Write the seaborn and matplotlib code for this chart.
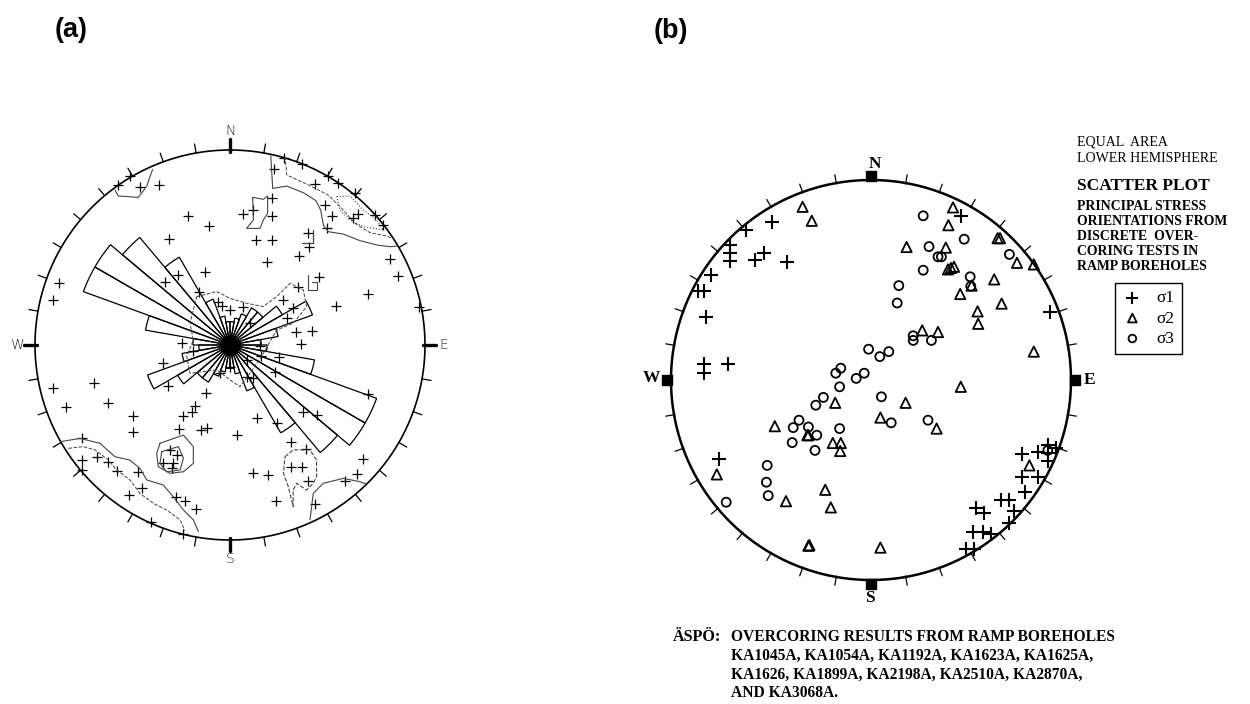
import numpy as np
import matplotlib
matplotlib.use("Agg")
import matplotlib.pyplot as plt
import seaborn as sns

# ---------------- data: panel (a) ----------------
# rose diagram, 10-degree bins 0-180 (mirrored to 180-360), length as fraction of net radius
rose_bin_start = list(range(0, 180, 10))
rose_length = [0.12, 0.14, 0.17, 0.22, 0.22, 0.31, 0.45, 0.25, 0.16,
               0.19, 0.44, 0.80, 0.80, 0.72, 0.52, 0.25, 0.15, 0.12]

# poles (+) in projected net coordinates (east, north), unit radius
a_x = [-0.573, -0.462, -0.362, -0.513, -0.214, -0.106, -0.311, 0.068, 0.120, 0.217,
       0.217, 0.133, 0.217, 0.191, 0.356, 0.402, 0.407, 0.226, 0.368, 0.436,
       0.487, 0.521, 0.499, 0.629, 0.744, 0.786, 0.821, 0.863, 0.709, 0.544,
       0.458, 0.350, 0.338, 0.419, 0.362, 0.253, 0.231, 0.709, 0.641, 0.556,
       0.501, -0.875, -0.906, -0.909, -0.841, -0.697, -0.624, -0.499, -0.496, -0.345,
       -0.248, -0.188, -0.333, -0.265, -0.128, -0.157, -0.123, -0.179, -0.197, -0.243,
       -0.150, -0.116, -0.262, 0.034, 0.140, 0.239, 0.376, 0.444, 0.311, 0.390,
       0.311, 0.368, 0.402, 0.436, 0.116, 0.197, 0.236, 0.680, 0.650, 0.590,
       -0.761, -0.761, -0.684, -0.624, -0.761, -0.578, -0.470, -0.516, -0.453, -0.308,
       -0.274, -0.342, -0.291, -0.299, -0.277, -0.231, -0.174, -0.407, -0.239, -0.051,
       0.000, 0.068, 0.154, 0.089, 0.000, -0.043, 0.658, 0.277, 0.971, 0.274,
       0.325, 0.291, -0.316, 0.103, 0.085, 0.120, -0.060, 0.157]
a_y = [0.821, 0.809, 0.821, 0.868, 0.662, 0.612, 0.542, 0.670, 0.692, 0.752,
       0.662, 0.538, 0.538, 0.424, 0.456, 0.576, 0.501, 0.901, 0.928, 0.826,
       0.718, 0.662, 0.598, 0.650, 0.667, 0.615, 0.439, 0.354, 0.262, 0.202,
       0.350, 0.296, 0.068, 0.074, 0.005, -0.060, -0.137, -0.251, 0.778, 0.832,
       0.867, 0.320, 0.231, -0.222, -0.316, -0.197, -0.299, -0.364, -0.444, -0.091,
       0.009, -0.029, 0.325, 0.359, 0.373, 0.274, -0.244, -0.313, -0.345, -0.364,
       -0.436, -0.427, -0.432, -0.462, -0.376, -0.398, -0.342, -0.359, -0.496, -0.535,
       -0.627, -0.627, -0.696, -0.815, -0.658, -0.667, -0.798, -0.586, -0.663, -0.696,
       -0.479, -0.590, -0.576, -0.598, -0.641, -0.644, -0.650, -0.769, -0.735, -0.538,
       -0.564, -0.603, -0.603, -0.632, -0.781, -0.798, -0.843, -0.909, -0.969, -0.145,
       -0.111, 0.193, -0.005, -0.162, 0.179, 0.200, 0.672, 0.957, 0.197, 0.231,
       0.188, 0.137, -0.210, 0.111, -0.077, -0.171, 0.222, -0.056]

# density contour traces (east, north)
contour_ne_outer = [(0.209, 0.971), (0.219, 0.803), (0.291, 0.815), (0.376, 0.781), (0.441, 0.740),
                    (0.465, 0.692), (0.479, 0.615), (0.504, 0.581), (0.581, 0.569), (0.667, 0.535),
                    (0.752, 0.513), (0.821, 0.504), (0.863, 0.508)]
contour_ne_mid = [(0.282, 0.966), (0.291, 0.872), (0.402, 0.821), (0.504, 0.769), (0.581, 0.692),
                  (0.641, 0.624), (0.718, 0.576), (0.803, 0.559), (0.840, 0.545)]
contour_ne_inner = [(0.547, 0.761), (0.615, 0.764), (0.684, 0.692), (0.752, 0.641), (0.786, 0.590),
                    (0.684, 0.607), (0.615, 0.641), (0.564, 0.692), (0.547, 0.761)]
contour_nw = [(-0.590, 0.795), (-0.573, 0.764), (-0.470, 0.757), (-0.427, 0.815), (-0.397, 0.900)]
contour_sw_outer = [(-0.872, -0.496), (-0.769, -0.479), (-0.667, -0.504), (-0.590, -0.573),
                    (-0.513, -0.590), (-0.462, -0.633), (-0.427, -0.692), (-0.342, -0.718),
                    (-0.291, -0.778), (-0.239, -0.846), (-0.188, -0.897), (-0.162, -0.957)]
contour_sw_inner = [(-0.829, -0.530), (-0.752, -0.521), (-0.692, -0.538), (-0.624, -0.590),
                    (-0.581, -0.641), (-0.513, -0.692), (-0.462, -0.761), (-0.393, -0.812),
                    (-0.325, -0.846), (-0.256, -0.897), (-0.231, -0.952)]
contour_island_outer = [(-0.359, -0.504), (-0.239, -0.462), (-0.188, -0.521), (-0.188, -0.607),
                        (-0.239, -0.650), (-0.308, -0.658), (-0.368, -0.624), (-0.376, -0.556),
                        (-0.359, -0.504)]
contour_island_inner = [(-0.350, -0.547), (-0.265, -0.521), (-0.239, -0.581), (-0.256, -0.641),
                        (-0.325, -0.650), (-0.359, -0.607), (-0.350, -0.547)]
contour_se = [(0.282, -0.573), (0.324, -0.538), (0.410, -0.538), (0.444, -0.590), (0.444, -0.675),
              (0.427, -0.709), (0.393, -0.744), (0.342, -0.709), (0.324, -0.744), (0.324, -0.829),
              (0.299, -0.726), (0.274, -0.658), (0.282, -0.573)]
contour_se_rim = [(0.410, -0.897), (0.427, -0.761), (0.479, -0.709), (0.581, -0.684),
                  (0.667, -0.701), (0.700, -0.714)]
contour_centre = [(-0.171, 0.248), (-0.068, 0.274), (0.000, 0.239), (0.085, 0.214), (0.171, 0.197),
                  (0.239, 0.248), (0.308, 0.316), (0.376, 0.282), (0.393, 0.197), (0.324, 0.111),
                  (0.239, 0.077), (0.171, -0.043), (0.103, -0.145), (0.051, -0.214), (0.000, -0.179),
                  (-0.068, -0.128), (-0.205, -0.145), (-0.222, -0.060), (-0.188, 0.026),
                  (-0.205, 0.111), (-0.171, 0.248)]
contour_box_n = [(0.116, 0.757), (0.171, 0.747), (0.193, 0.764), (0.193, 0.675), (0.171, 0.641),
                 (0.154, 0.598), (0.085, 0.598), (0.120, 0.641), (0.116, 0.757)]
contour_step_ne = [(0.368, 0.521), (0.427, 0.521), (0.427, 0.590)]
contour_box_e = [(0.402, 0.359), (0.402, 0.282), (0.444, 0.282), (0.444, 0.325), (0.419, 0.325)]

# ---------------- data: panel (b) ----------------
s1_x = [-0.497, -0.623, -0.707, -0.707, -0.707, -0.534, -0.581, -0.419, -0.799, -0.866,
        -0.836, -0.827, -0.836, -0.836, -0.715, -0.760, 0.449, 0.893, 0.884, 0.926,
        0.834, 0.755, 0.884, 0.884, 0.834, 0.755, 0.772, 0.650, 0.692, 0.717,
        0.524, 0.566, 0.692, 0.508, 0.558, 0.600, 0.474, 0.513]
s1_y = [0.791, 0.750, 0.673, 0.637, 0.595, 0.633, 0.600, 0.591, 0.523, 0.444,
        0.444, 0.315, 0.080, 0.034, 0.080, -0.397, 0.821, 0.338, -0.327, -0.338,
        -0.360, -0.372, -0.365, -0.407, -0.486, -0.486, -0.561, -0.600, -0.600, -0.653,
        -0.642, -0.667, -0.717, -0.762, -0.762, -0.771, -0.843, -0.843]
s2_x = [-0.342, -0.296, 0.410, 0.387, 0.178, 0.374, 0.633, 0.645, 0.730, 0.814,
        0.385, 0.400, 0.415, 0.503, 0.446, 0.616, 0.653, 0.533, 0.536, 0.256,
        0.335, 0.814, 0.449, 0.173, -0.179, 0.047, 0.328, -0.481, -0.313, -0.318,
        -0.191, -0.151, -0.154, -0.771, -0.229, -0.201, -0.425, -0.313, -0.308, 0.047,
        0.792]
s2_y = [0.866, 0.796, 0.863, 0.774, 0.665, 0.662, 0.709, 0.709, 0.586, 0.578,
        0.553, 0.560, 0.566, 0.472, 0.430, 0.503, 0.382, 0.343, 0.281, 0.248,
        0.240, 0.142, -0.034, -0.114, -0.114, -0.188, -0.243, -0.231, -0.276, -0.276,
        -0.315, -0.315, -0.355, -0.472, -0.549, -0.637, -0.606, -0.829, -0.826, -0.838,
        -0.427]
s3_x = [0.261, 0.466, 0.290, 0.335, 0.352, 0.261, 0.496, 0.499, 0.692, 0.139,
        0.131, 0.211, 0.211, 0.302, -0.012, 0.044, 0.089, -0.151, -0.176, -0.034,
        -0.074, -0.157, -0.238, -0.276, 0.052, 0.101, 0.285, -0.360, -0.389, -0.313,
        -0.271, -0.157, -0.394, -0.280, -0.519, -0.523, -0.514, -0.724, 0.884]
s3_y = [0.821, 0.704, 0.667, 0.616, 0.616, 0.549, 0.516, 0.469, 0.628, 0.472,
        0.385, 0.221, 0.198, 0.198, 0.154, 0.117, 0.142, 0.059, 0.034, 0.034,
        0.008, -0.034, -0.087, -0.126, -0.084, -0.214, -0.201, -0.201, -0.238, -0.235,
        -0.276, -0.243, -0.313, -0.352, -0.427, -0.511, -0.578, -0.611, -0.352]
legend_labels = ["\u03c31", "\u03c32", "\u03c33"]

cardinal_az = [0, 90, 180, 270]
cardinal_names = ["N", "E", "S", "W"]

info_lines = [("EQUAL  AREA", False, 10), ("LOWER HEMISPHERE", False, 10),
              ("SCATTER PLOT", True, 12.5), ("PRINCIPAL STRESS", True, 9.9),
              ("ORIENTATIONS FROM", True, 9.9), ("DISCRETE  OVER-", True, 9.9),
              ("CORING TESTS IN", True, 9.9), ("RAMP BOREHOLES", True, 9.9)]
caption_head = "\u00c4SP\u00d6:"
caption_lines = ["OVERCORING RESULTS FROM RAMP BOREHOLES",
                 "KA1045A, KA1054A, KA1192A, KA1623A, KA1625A,",
                 "KA1626, KA1899A, KA2198A, KA2510A, KA2870A,",
                 "AND KA3068A."]

# ---------------- figure ----------------
sns.set_theme(style="white")
plt.rcParams["font.family"] = ["DejaVu Sans"]
plt.rcParams["text.color"] = "black"
W, H = 1250, 704
fig = plt.figure(figsize=(12.5, 7.04), dpi=100)
fig.patch.set_facecolor("white")
SERIF = "Liberation Serif"


def net_axes(cx, cy, r, half=1.3):
    ax = fig.add_axes([(cx - half * r) / W, (H - cy - half * r) / H,
                       2 * half * r / W, 2 * half * r / H])
    ax.set_xlim(-half, half)
    ax.set_ylim(-half, half)
    ax.axis("off")
    return ax


def polar_xy(az_deg, r):
    a = np.radians(az_deg)
    return r * np.sin(a), r * np.cos(a)


def draw_net(ax, lw, tick_out, tick_in=1.0):
    t = np.linspace(0, 360, 721)
    cx, cy = polar_xy(t, 1.0)
    ax.plot(cx, cy, color="black", lw=lw)
    for az in range(0, 360, 10):
        x0, y0 = polar_xy(az, tick_in)
        x1, y1 = polar_xy(az, tick_out)
        ax.plot([x0, x1], [y0, y1], color="black", lw=0.9)


# ---- panel (a)
ax_a = net_axes(230, 345, 195)
draw_net(ax_a, 1.2, 1.047)
for az in cardinal_az:
    x0, y0 = polar_xy(az, 0.99)
    x1, y1 = polar_xy(az, 1.055)
    ax_a.plot([x0, x1], [y0, y1], color="black", lw=2.4)
for az, name in zip(cardinal_az, cardinal_names):
    lx, ly = polar_xy(az, 1.095)
    ax_a.text(lx, ly, name, ha="center", va="center", fontsize=10,
              fontweight="light", color="#222222")

contours = [(contour_ne_outer, "-", 0.8), (contour_ne_mid, "--", 0.7), (contour_ne_inner, ":", 0.8),
            (contour_nw, "-", 0.8), (contour_sw_outer, "-", 0.8), (contour_sw_inner, "--", 0.7),
            (contour_island_outer, "-", 0.8), (contour_island_inner, "-", 0.8),
            (contour_se, "--", 0.8), (contour_se_rim, "-", 0.8), (contour_centre, "--", 0.7),
            (contour_box_n, "-", 0.8), (contour_step_ne, "-", 0.9), (contour_box_e, "-", 0.8)]
for pts, ls, w in contours:
    xs, ys = zip(*pts)
    ax_a.plot(xs, ys, ls=ls, lw=w, color="#444444")

for start, length in zip(rose_bin_start + [s + 180 for s in rose_bin_start],
                         rose_length + rose_length):
    arc = np.linspace(start, start + 10, 12)
    px, py = polar_xy(arc, length)
    ax_a.fill(np.r_[0, px, 0], np.r_[0, py, 0], facecolor="none",
              edgecolor="black", lw=0.9)
ax_a.scatter([0], [0], s=190, color="black", zorder=5)

sns.scatterplot(x=a_x, y=a_y, marker="+", s=45, color="black", linewidth=0.9, ax=ax_a)
ax_a.set_xlim(-1.3, 1.3)
ax_a.set_ylim(-1.3, 1.3)
ax_a.axis("off")

# ---- panel (b)
ax_b = net_axes(871, 380, 200)
draw_net(ax_b, 1.8, 1.042, 0.995)
sq_x, sq_y = polar_xy(np.array(cardinal_az), 1.02)
ax_b.scatter(sq_x, sq_y, marker="s", s=45, color="black", zorder=5)
lab_pos = {"N": (0.02, 1.078), "E": (1.095, 0.0), "S": (-0.005, -1.09), "W": (-1.1, 0.01)}
for name in cardinal_names:
    ax_b.text(*lab_pos[name], name, ha="center", va="center", fontsize=12.5,
              fontweight="bold", family=SERIF, color="black")

sns.scatterplot(x=s1_x, y=s1_y, marker="+", s=110, color="black", linewidth=1.5,
                ax=ax_b, label=legend_labels[0])
sns.scatterplot(x=s2_x, y=s2_y, marker="^", s=55, facecolor="none", edgecolor="black",
                linewidth=1.3, ax=ax_b, label=legend_labels[1])
sns.scatterplot(x=s3_x, y=s3_y, marker="o", s=42, facecolor="none", edgecolor="black",
                linewidth=1.3, ax=ax_b, label=legend_labels[2])
ax_b.set_xlim(-1.3, 1.3)
ax_b.set_ylim(-1.3, 1.3)
ax_b.axis("off")

handles, labels = ax_b.get_legend_handles_labels()
leg = ax_b.legend(handles, labels, loc="upper left",
                  bbox_to_anchor=(1115 / W, 1 - 283 / H), bbox_transform=fig.transFigure,
                  frameon=True, fancybox=False, framealpha=1, edgecolor="black",
                  prop={"family": SERIF, "size": 12.5}, borderpad=0.4,
                  handlelength=1.2, handletextpad=0.8, labelspacing=0.25,
                  borderaxespad=0, markerscale=0.85)
leg.get_frame().set_linewidth(1.0)
for t in leg.get_texts():
    t.set_color("black")

# ---- texts
def ftext(x, y, s, **kw):
    kw.setdefault("color", "black")
    fig.text(x / W, 1 - y / H, s, **kw)

ftext(71.5, 30, "(a)", ha="center", va="center", fontsize=19.5, fontweight="bold",
      family="Liberation Sans")
ftext(671, 31, "(b)", ha="center", va="center", fontsize=19.5, fontweight="bold",
      family="Liberation Sans")

baselines = [145, 161.5, 190, 209.5, 225, 240, 255, 270]
for (txt, bold, size), yb in zip(info_lines, baselines):
    ftext(1077, yb, txt, ha="left", va="baseline", fontsize=size,
          fontweight="bold" if bold else "normal", family=SERIF)

cap_base = [641, 660, 678.5, 697]
ftext(673, cap_base[0], caption_head, ha="left", va="baseline", fontsize=11.6,
      fontweight="bold", family=SERIF)
for line, yb in zip(caption_lines, cap_base):
    ftext(731, yb, line, ha="left", va="baseline", fontsize=11.2,
          fontweight="bold", family=SERIF)

fig.savefig("out.png", dpi=100, facecolor="white")
